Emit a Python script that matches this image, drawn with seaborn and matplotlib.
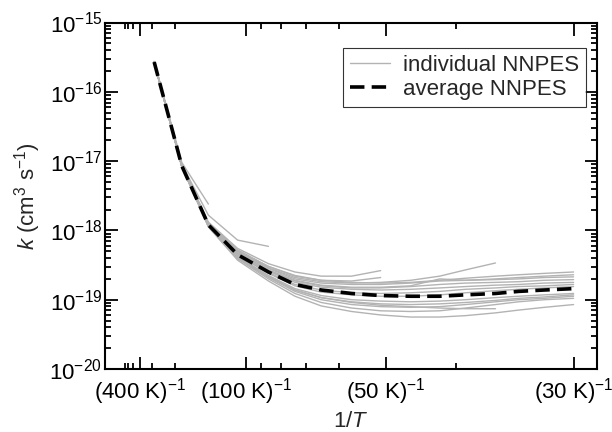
import numpy as np
import pandas as pd
import matplotlib
matplotlib.use("Agg")
import matplotlib.pyplot as plt
from matplotlib.lines import Line2D
import seaborn as sns

# temperatures (K) where the rate constants were computed
temps = [286, 183, 136, 106, 86, 74, 65, 57, 51, 46, 42, 39, 36, 34, 32, 30]

# log10 k of each individual NNPES (shorter lists stop at lower 1/T)
pes_logk = [
    [-15.56, -17.02, -17.62],
    [-15.57, -17.05, -17.78, -18.14, -18.23],
    [-15.57, -17.07, -17.88, -18.26, -18.48, -18.60, -18.66, -18.66, -18.58],
    [-15.57, -17.07, -17.90, -18.30, -18.52, -18.66, -18.72, -18.73, -18.68],
    [-15.57, -17.07, -17.90, -18.30, -18.54, -18.68, -18.74, -18.76, -18.75, -18.72, -18.66, -18.57, -18.47],
    [-15.57, -17.08, -17.94, -18.40, -18.67, -18.86, -18.97, -19.04, -19.08, -19.10, -19.12, -19.13, -19.13],
    [-15.57, -17.07, -17.89, -18.28, -18.52, -18.65, -18.72, -18.75, -18.76, -18.75, -18.72, -18.69, -18.66, -18.64, -18.62, -18.60],
    [-15.57, -17.07, -17.90, -18.31, -18.55, -18.70, -18.76, -18.78, -18.78, -18.76, -18.73, -18.72, -18.70, -18.68, -18.66, -18.64],
    [-15.57, -17.07, -17.91, -18.32, -18.57, -18.72, -18.79, -18.82, -18.82, -18.80, -18.70, -18.72, -18.71, -18.70, -18.68, -18.67],
    [-15.57, -17.07, -17.91, -18.33, -18.58, -18.73, -18.80, -18.83, -18.83, -18.81, -18.78, -18.76, -18.75, -18.74, -18.72, -18.71],
    [-15.57, -17.07, -17.92, -18.34, -18.59, -18.75, -18.82, -18.85, -18.86, -18.85, -18.83, -18.81, -18.79, -18.78, -18.76, -18.75],
    [-15.57, -17.07, -17.92, -18.35, -18.61, -18.78, -18.86, -18.90, -18.91, -18.90, -18.88, -18.85, -18.83, -18.81, -18.80, -18.78],
    [-15.57, -17.07, -17.92, -18.36, -18.62, -18.80, -18.89, -18.93, -18.95, -18.95, -18.93, -18.90, -18.87, -18.85, -18.83, -18.81],
    [-15.57, -17.08, -17.93, -18.38, -18.65, -18.84, -18.94, -19.00, -19.02, -19.03, -19.02, -19.00, -18.97, -18.95, -18.93, -18.91],
    [-15.57, -17.08, -17.93, -18.39, -18.66, -18.86, -18.97, -19.03, -19.06, -19.07, -19.06, -19.04, -19.01, -18.98, -18.96, -18.93],
    [-15.57, -17.08, -17.94, -18.40, -18.68, -18.88, -19.00, -19.07, -19.10, -19.11, -19.10, -19.07, -19.03, -19.00, -18.98, -18.95],
    [-15.57, -17.08, -17.94, -18.41, -18.70, -18.91, -19.04, -19.12, -19.16, -19.17, -19.16, -19.12, -19.07, -19.03, -19.00, -18.98],
    [-15.57, -17.08, -17.95, -18.43, -18.73, -18.95, -19.09, -19.17, -19.22, -19.25, -19.25, -19.23, -19.19, -19.15, -19.11, -19.07],
]

# log10 k of the average NNPES
avg_logk = [-15.57, -17.07, -17.92, -18.35, -18.60, -18.78, -18.86, -18.91,
            -18.94, -18.95, -18.95, -18.93, -18.91, -18.88, -18.86, -18.84]

major_T = [400, 100, 50, 30]
minor_T = [700, 600, 500, 300, 200, 90, 80, 70, 60, 40]
y_decades = [-20, -19, -18, -17, -16, -15]

##### long-form tables for seaborn
rows = []
for i, lk in enumerate(pes_logk):
    for T, v in zip(temps, lk):
        rows.append({"pes": i, "invT": 1.0 / T, "k": 10.0 ** v})
df = pd.DataFrame(rows)
df_avg = pd.DataFrame({"invT": [1.0 / T for T in temps],
                       "k": [10.0 ** v for v in avg_logk]})

sns.set_style("ticks")
plt.rcParams["font.family"] = ["Liberation Sans", "DejaVu Sans"]
plt.rcParams["mathtext.fontset"] = "custom"
plt.rcParams["mathtext.rm"] = "Liberation Sans"
plt.rcParams["mathtext.it"] = "Liberation Sans:italic"
plt.rcParams["mathtext.default"] = "regular"

fs = 16
fig = plt.figure(figsize=(6.12, 4.32), dpi=100)
ax = fig.add_axes([0.1716, 0.1458, 0.8039, 0.8021])

gray = "#b3b3b3"
sns.lineplot(data=df, x="invT", y="k", units="pes", estimator=None,
             color=gray, lw=1.0, sort=False, ax=ax, legend=False)
sns.lineplot(data=df_avg, x="invT", y="k", color="black", lw=2.6,
             dashes=False, ax=ax, legend=False)
ax.lines[-1].set_dashes((4, 2))

ax.set_yscale("log")
ax.set_xlim(0, 0.035)
ax.set_ylim(1e-20, 1e-15)
ax.set_yticks([10.0 ** e for e in y_decades])
ax.set_yticklabels([r"$10^{%d}$" % e for e in y_decades])

ax.set_xticks([1.0 / T for T in major_T])
ax.set_xticklabels([r"$(%d\ K)^{-1}$" % T for T in major_T])
ax.set_xticks([1.0 / T for T in minor_T], minor=True)

ax.tick_params(which="both", direction="in", top=True, right=True,
               labelsize=fs, width=1.3, colors="black")
ax.tick_params(axis="x", pad=5)
ax.tick_params(axis="y", pad=2)
ax.tick_params(which="major", length=9)
ax.tick_params(which="minor", length=4.5)
for s in ax.spines.values():
    s.set_linewidth(1.5)
    s.set_color("black")

ax.set_xlabel(r"1/$\mathit{T}$", fontsize=fs, labelpad=3)
ax.set_ylabel(r"$\mathit{k}$ (cm$^{3}$ s$^{-1}$)", fontsize=fs, labelpad=5)

handles = [Line2D([], [], color=gray, lw=1.0),
           Line2D([], [], color="black", lw=2.6, dashes=(4, 2))]
leg = ax.legend(handles, ["individual NNPES", "average NNPES"],
                loc="upper right", bbox_to_anchor=(0.978, 0.926),
                fontsize=fs, frameon=True, fancybox=False,
                handlelength=1.8, borderpad=0.3, labelspacing=0.15,
                handletextpad=0.6, borderaxespad=0)
leg.get_frame().set_edgecolor("black")
leg.get_frame().set_linewidth(0.8)

plt.savefig("out.png", dpi=100)
plt.close()
